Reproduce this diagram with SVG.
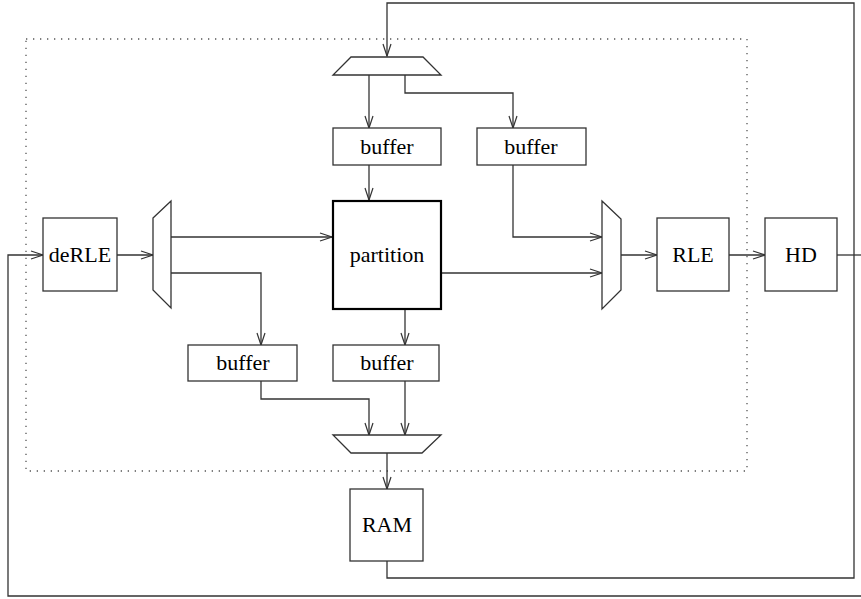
<svg xmlns="http://www.w3.org/2000/svg" width="861" height="599" viewBox="0 0 861 599">
<defs>
<marker id="arr" markerUnits="userSpaceOnUse" markerWidth="14" markerHeight="10" viewBox="-12 -5 13 10" refX="0" refY="0" orient="auto" overflow="visible">
<polyline points="-12,-4 0,0 -12,4" fill="none" stroke="#333" stroke-width="1.2"/>
</marker>
</defs>
<style>
.box{fill:#fff;stroke:#333;stroke-width:1.3}
.bold{fill:#fff;stroke:#000;stroke-width:2.2}
.mux{fill:#fff;stroke:#333;stroke-width:1.3}
.c{fill:none;stroke:#333;stroke-width:1.3}
.ca{fill:none;stroke:#333;stroke-width:1.3;marker-end:url(#arr)}
.t{font-family:"Liberation Serif","Times New Roman",serif;font-size:22px;fill:#000;text-anchor:middle}
</style>
<rect x="26" y="39" width="721" height="432" fill="none" stroke="#555" stroke-width="1.3" stroke-dasharray="1.3 5.7"/>
<g id="connectors">
<polyline class="ca" points="387,561 387,578 854,578 854,3 387,3 387,56"/>
<polyline class="c" points="837,255 861,255"/>
<polyline class="ca" points="861,596 8,596 8,255 43,255"/>
<polyline class="ca" points="369,75 369,128"/>
<polyline class="ca" points="405,75 405,93 513,93 513,128"/>
<polyline class="ca" points="369,165 369,200"/>
<polyline class="ca" points="513,165 513,237 602,237"/>
<polyline class="ca" points="117,255 153,255"/>
<polyline class="ca" points="171,237 332,237"/>
<polyline class="ca" points="171,273 261,273 261,345"/>
<polyline class="ca" points="442,273 602,273"/>
<polyline class="ca" points="405,310 405,345"/>
<polyline class="ca" points="261,381 261,399 369,399 369,435"/>
<polyline class="ca" points="405,381 405,435"/>
<polyline class="ca" points="387,453 387,489"/>
<polyline class="ca" points="621,255 657,255"/>
<polyline class="ca" points="729,255 765,255"/>
</g>
<g id="mux_top"><polygon class="mux" points="351,57 423,57 441,75 333,75"/></g>
<g id="mux_left"><polygon class="mux" points="153,218 171,201 171,308 153,290"/></g>
<g id="mux_right"><polygon class="mux" points="602,201 621,219 621,290 602,309"/></g>
<g id="mux_bottom"><polygon class="mux" points="333,435 441,435 422,453 351,453"/></g>
<g id="buffer1"><rect class="box" x="333" y="128" width="108" height="37"/><text class="t" x="387" y="154">buffer</text></g>
<g id="buffer2"><rect class="box" x="477" y="128" width="109" height="37"/><text class="t" x="531" y="154">buffer</text></g>
<g id="buffer3"><rect class="box" x="188" y="345" width="109" height="36"/><text class="t" x="243" y="370">buffer</text></g>
<g id="buffer4"><rect class="box" x="333" y="345" width="106" height="36"/><text class="t" x="387" y="370">buffer</text></g>
<g id="partition"><rect class="bold" x="333" y="201" width="108" height="108"/><text class="t" x="387" y="262">partition</text></g>
<g id="deRLE"><rect class="box" x="43" y="218" width="74" height="73"/><text class="t" x="80" y="262">deRLE</text></g>
<g id="RLE"><rect class="box" x="657" y="218" width="72" height="73"/><text class="t" x="693" y="262">RLE</text></g>
<g id="HD"><rect class="box" x="765" y="218" width="72" height="73"/><text class="t" x="801" y="262">HD</text></g>
<g id="RAM"><rect class="box" x="350" y="489" width="73" height="72"/><text class="t" x="387" y="532">RAM</text></g>
</svg>
